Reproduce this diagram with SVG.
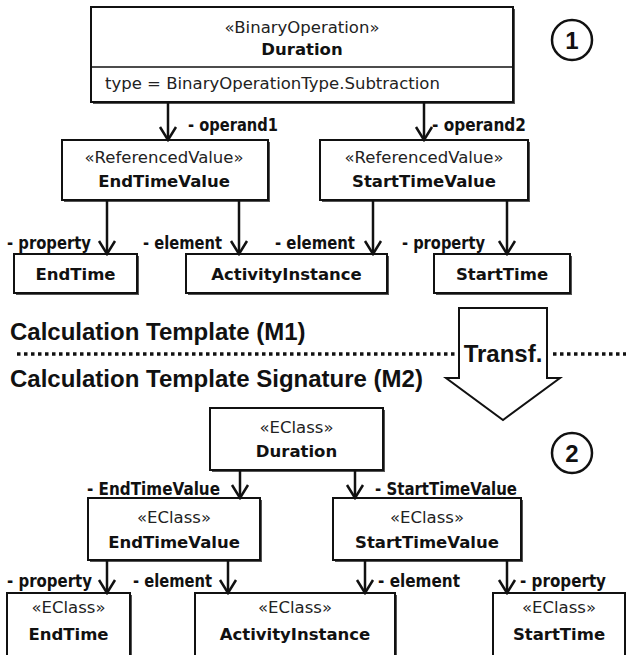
<svg xmlns="http://www.w3.org/2000/svg" width="626" height="655" viewBox="0 0 626 655">
<defs>
<style>
.box{fill:#fff;stroke:#111;stroke-width:2}
.sh{fill:#555}
.st{font-family:"DejaVu Sans",Verdana,sans-serif;font-size:16.5px;fill:#222;text-anchor:middle}
.nm{font-family:"DejaVu Sans",Verdana,sans-serif;font-size:16.5px;font-weight:bold;fill:#111;text-anchor:middle}
.at{font-family:"DejaVu Sans",Verdana,sans-serif;font-size:16.5px;fill:#222}
.lb{font-family:"DejaVu Sans",Verdana,sans-serif;font-size:17.5px;font-weight:bold;fill:#111}
.big{font-family:"Liberation Sans",Arial,sans-serif;font-size:24px;font-weight:bold;fill:#111}
.con{stroke:#111;stroke-width:2.5;fill:none;marker-end:url(#v)}
.num{fill:#fff;stroke:#111;stroke-width:2.5}
</style>
<marker id="v" viewBox="-15 -10 17 20" markerWidth="17" markerHeight="20" refX="0" refY="0" orient="auto" markerUnits="userSpaceOnUse">
<path d="M-13,-8 L0,0 L-13,8" fill="none" stroke="#111" stroke-width="2.5"/>
</marker>
</defs>

<g id="m1-duration">
<rect class="sh" x="93" y="9" width="422" height="95"/>
<rect class="box" x="91" y="7" width="422" height="95"/>
<line x1="91" y1="67" x2="513" y2="67" stroke="#111" stroke-width="1.5"/>
<text class="st" x="302" y="33">«BinaryOperation»</text>
<text class="nm" x="302" y="55">Duration</text>
<text class="at" x="105" y="89">type = BinaryOperationType.Subtraction</text>
</g>

<g id="marker-1">
<circle class="num" cx="572" cy="40" r="20"/>
<text class="big" x="572" y="49" text-anchor="middle">1</text>
</g>

<g id="m1-endtimevalue">
<rect class="sh" x="64" y="142" width="206" height="60"/>
<rect class="box" x="62" y="140" width="206" height="60"/>
<text class="st" x="164" y="163">«ReferencedValue»</text>
<text class="nm" x="164" y="187">EndTimeValue</text>
</g>

<g id="m1-starttimevalue">
<rect class="sh" x="322" y="142" width="208" height="60"/>
<rect class="box" x="320" y="140" width="208" height="60"/>
<text class="st" x="424" y="163">«ReferencedValue»</text>
<text class="nm" x="424" y="187">StartTimeValue</text>
</g>

<g id="m1-endtime">
<rect class="sh" x="16" y="256" width="123" height="39"/>
<rect class="box" x="14" y="254" width="123" height="39"/>
<text class="nm" x="75.5" y="280">EndTime</text>
</g>

<g id="m1-activityinstance">
<rect class="sh" x="188" y="256" width="201" height="39"/>
<rect class="box" x="186" y="254" width="201" height="39"/>
<text class="nm" x="286.5" y="280">ActivityInstance</text>
</g>

<g id="m1-starttime">
<rect class="sh" x="436" y="256" width="136" height="39"/>
<rect class="box" x="434" y="254" width="136" height="39"/>
<text class="nm" x="502" y="280">StartTime</text>
</g>

<g id="separator">
<text class="big" x="10" y="340">Calculation Template (M1)</text>
<line x1="17" y1="354" x2="457" y2="354" stroke="#111" stroke-width="3.5" stroke-dasharray="3.5 3.5"/>
<line x1="553" y1="354" x2="626" y2="354" stroke="#111" stroke-width="3.5" stroke-dasharray="3.5 3.5"/>
<text class="big" x="10" y="387">Calculation Template Signature (M2)</text>
</g>

<g id="transf">
<path d="M459,308 H547 V378 H560 L503,420 L446,378 H459 Z" fill="#fff" stroke="#111" stroke-width="2"/>
<text class="big" x="503" y="362" text-anchor="middle">Transf.</text>
</g>

<g id="marker-2">
<circle class="num" cx="572" cy="453" r="20"/>
<text class="big" x="572" y="462" text-anchor="middle">2</text>
</g>

<g id="m2-duration">
<rect class="sh" x="212" y="410" width="173" height="62"/>
<rect class="box" x="210" y="408" width="173" height="62"/>
<text class="st" x="296.5" y="433">«EClass»</text>
<text class="nm" x="296.5" y="457">Duration</text>
</g>

<g id="m2-endtimevalue">
<rect class="sh" x="90" y="500" width="172" height="62"/>
<rect class="box" x="88" y="498" width="172" height="62"/>
<text class="st" x="174" y="523">«EClass»</text>
<text class="nm" x="174" y="548">EndTimeValue</text>
</g>

<g id="m2-starttimevalue">
<rect class="sh" x="335" y="500" width="188" height="62"/>
<rect class="box" x="333" y="498" width="188" height="62"/>
<text class="st" x="427" y="523">«EClass»</text>
<text class="nm" x="427" y="548">StartTimeValue</text>
</g>

<g id="m2-endtime">
<rect class="sh" x="9" y="595" width="123" height="70"/>
<rect class="box" x="7" y="593" width="123" height="70"/>
<text class="st" x="68.5" y="613">«EClass»</text>
<text class="nm" x="68.5" y="640">EndTime</text>
</g>

<g id="m2-activityinstance">
<rect class="sh" x="197" y="595" width="200" height="70"/>
<rect class="box" x="195" y="593" width="200" height="70"/>
<text class="st" x="295" y="613">«EClass»</text>
<text class="nm" x="295" y="640">ActivityInstance</text>
</g>

<g id="m2-starttime">
<rect class="sh" x="495" y="595" width="132" height="70"/>
<rect class="box" x="493" y="593" width="132" height="70"/>
<text class="st" x="559" y="613">«EClass»</text>
<text class="nm" x="559" y="640">StartTime</text>
</g>

<g id="connectors">
<line class="con" x1="168" y1="102" x2="168" y2="140"/>
<line class="con" x1="424" y1="102" x2="424" y2="140"/>
<line class="con" x1="107" y1="200" x2="107" y2="254"/>
<line class="con" x1="239" y1="200" x2="239" y2="254"/>
<line class="con" x1="373" y1="200" x2="373" y2="254"/>
<line class="con" x1="507" y1="200" x2="507" y2="254"/>
<line class="con" x1="240" y1="470" x2="240" y2="498"/>
<line class="con" x1="355" y1="470" x2="355" y2="498"/>
<line class="con" x1="107" y1="560" x2="107" y2="593"/>
<line class="con" x1="228" y1="560" x2="228" y2="593"/>
<line class="con" x1="365" y1="560" x2="365" y2="593"/>
<line class="con" x1="507" y1="560" x2="507" y2="593"/>
<text class="lb" x="188" y="131" textLength="90" lengthAdjust="spacingAndGlyphs">- operand1</text>
<text class="lb" x="432" y="131" textLength="94" lengthAdjust="spacingAndGlyphs">- operand2</text>
<text class="lb" x="7" y="249" textLength="84" lengthAdjust="spacingAndGlyphs">- property</text>
<text class="lb" x="143" y="249" textLength="79" lengthAdjust="spacingAndGlyphs">- element</text>
<text class="lb" x="275" y="249" textLength="80" lengthAdjust="spacingAndGlyphs">- element</text>
<text class="lb" x="402" y="249" textLength="83" lengthAdjust="spacingAndGlyphs">- property</text>
<text class="lb" x="87" y="495" textLength="133" lengthAdjust="spacingAndGlyphs">- EndTimeValue</text>
<text class="lb" x="375" y="495" textLength="142" lengthAdjust="spacingAndGlyphs">- StartTimeValue</text>
<text class="lb" x="7" y="587" textLength="85" lengthAdjust="spacingAndGlyphs">- property</text>
<text class="lb" x="133" y="587" textLength="79" lengthAdjust="spacingAndGlyphs">- element</text>
<text class="lb" x="378" y="587" textLength="82" lengthAdjust="spacingAndGlyphs">- element</text>
<text class="lb" x="520" y="587" textLength="86" lengthAdjust="spacingAndGlyphs">- property</text>
</g>
</svg>
